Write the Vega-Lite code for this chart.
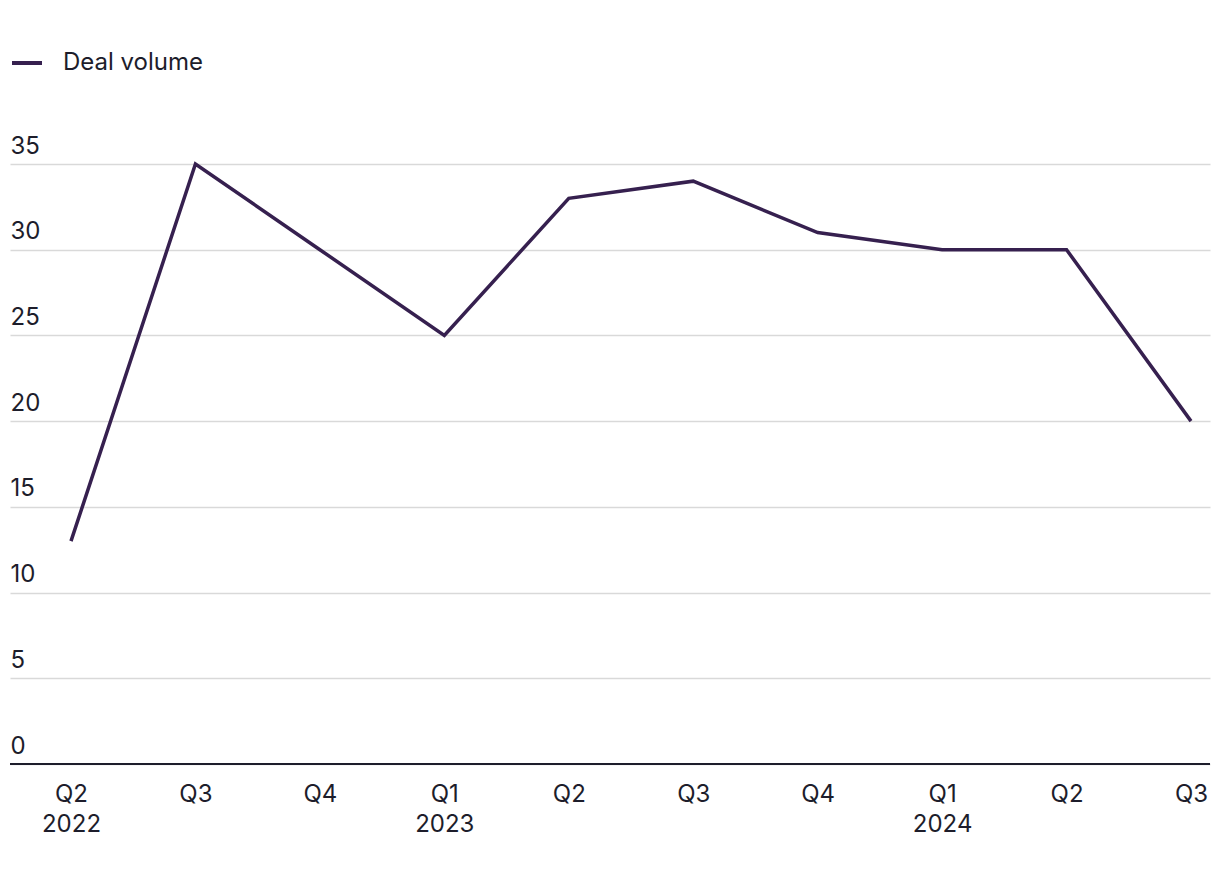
{
  "$schema": "https://vega.github.io/schema/vega-lite/v6.json",
  "width": 1200,
  "height": 600,
  "autosize": {"type": "none"},
  "padding": {"left": 10, "top": 164, "right": 10, "bottom": 120},
  "background": "white",
  "config": {
    "font": "Inter",
    "view": {"stroke": null},
    "axis": {"labelFont": "Inter", "labelFontSize": 24, "labelColor": "#1d1d2b"},
    "legend": {"labelFont": "Inter", "labelFontSize": 24, "labelColor": "#1d1d2b"}
  },
  "data": {
    "values": [
      {"period": "Q2 2022", "series": "Deal volume", "value": 13},
      {"period": "Q3 2022", "series": "Deal volume", "value": 35},
      {"period": "Q4 2022", "series": "Deal volume", "value": 30},
      {"period": "Q1 2023", "series": "Deal volume", "value": 25},
      {"period": "Q2 2023", "series": "Deal volume", "value": 33},
      {"period": "Q3 2023", "series": "Deal volume", "value": 34},
      {"period": "Q4 2023", "series": "Deal volume", "value": 31},
      {"period": "Q1 2024", "series": "Deal volume", "value": 30},
      {"period": "Q2 2024", "series": "Deal volume", "value": 30},
      {"period": "Q3 2024", "series": "Deal volume", "value": 20}
    ]
  },
  "layer": [
    {
      "mark": {"type": "line", "strokeWidth": 3.5, "strokeJoin": "miter"},
      "encoding": {
        "x": {
          "field": "period",
          "type": "ordinal",
          "sort": null,
          "scale": {"type": "point", "padding": 0.3214, "align": 0.7625},
          "axis": {
            "title": null,
            "domain": false,
            "ticks": false,
            "grid": false,
            "labelAngle": 0,
            "labelPadding": 18,
            "labelBaseline": "top",
            "labelLineHeight": 30,
            "labelExpr": "(indexof(datum.value, 'Q1') == 0 || datum.value == 'Q2 2022') ? split(datum.value, ' ') : substring(datum.value, 0, 2)"
          }
        },
        "y": {
          "field": "value",
          "type": "quantitative",
          "scale": {"domain": [0, 35], "nice": false},
          "axis": {
            "title": null,
            "values": [0, 5, 10, 15, 20, 25, 30, 35],
            "domain": false,
            "ticks": false,
            "tickSize": 0,
            "grid": true,
            "gridColor": "#d9d9d9",
            "gridWidth": 1.5,
            "labelAlign": "left",
            "labelBaseline": "alphabetic",
            "labelPadding": 0,
            "labelOffset": -11
          }
        },
        "color": {
          "field": "series",
          "type": "nominal",
          "scale": {"range": ["#36204f"]},
          "legend": {
            "title": null,
            "orient": "none",
            "legendX": 0,
            "legendY": -118,
            "symbolType": "stroke",
            "symbolStrokeWidth": 4,
            "symbolSize": 900,
            "labelOffset": 19
          }
        }
      }
    },
    {
      "mark": {"type": "rule", "color": "#1d1d2b", "strokeWidth": 2},
      "encoding": {"y": {"datum": 0}}
    }
  ]
}
